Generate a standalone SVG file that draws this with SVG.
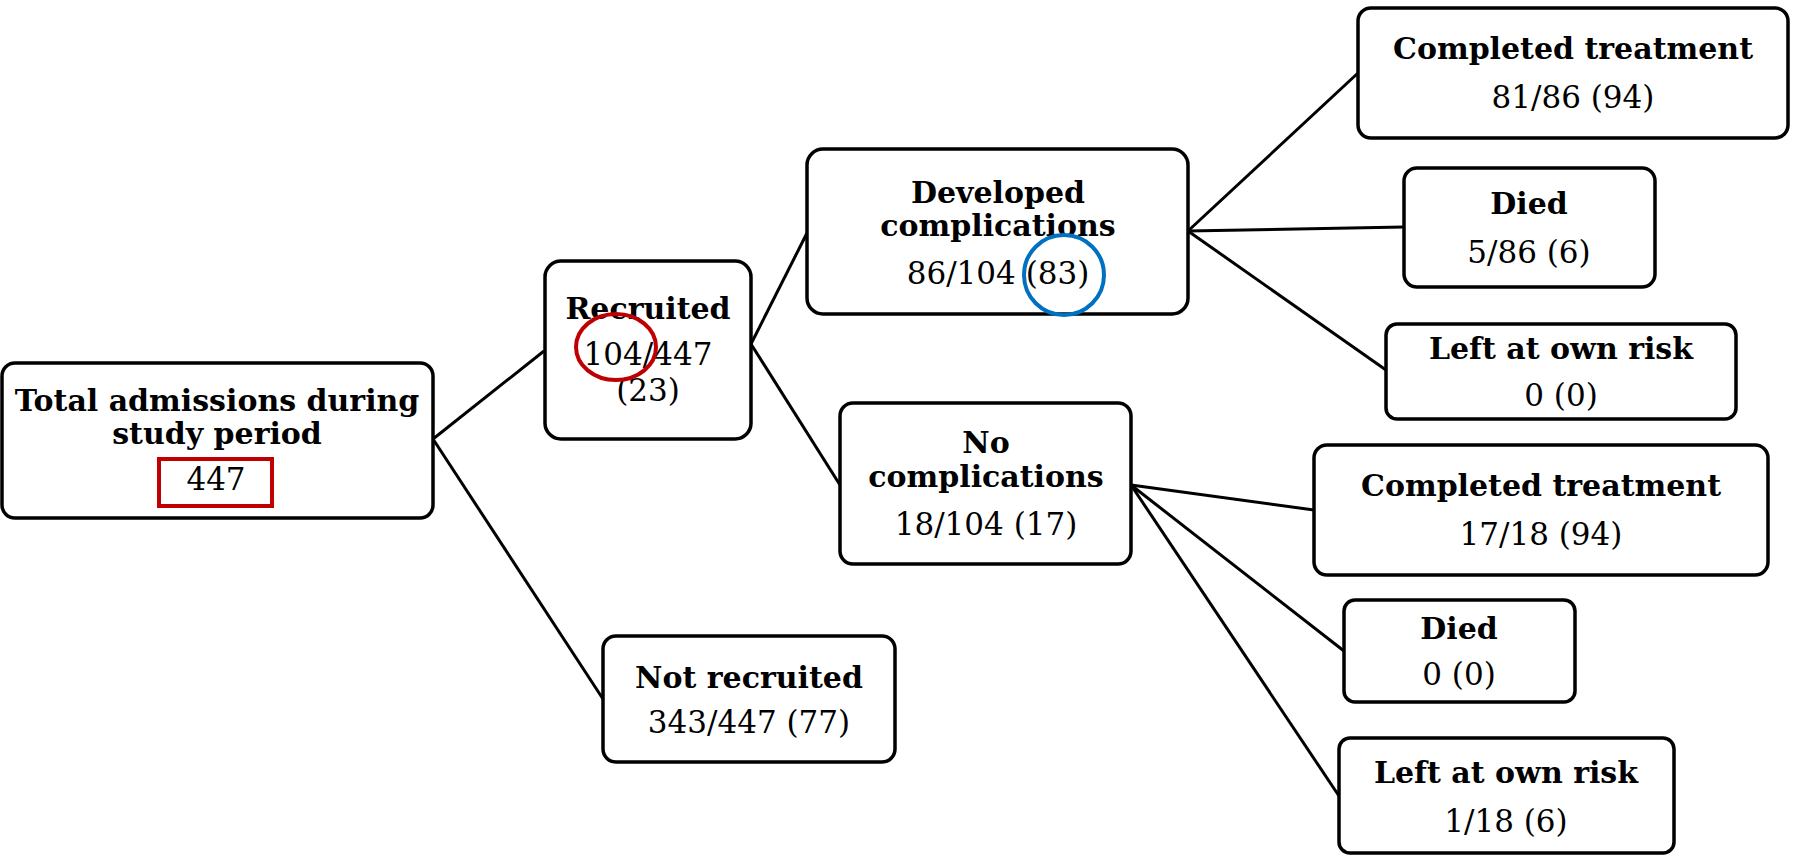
<svg xmlns="http://www.w3.org/2000/svg" width="1797" height="855" viewBox="0 0 1797 855">
<style>
.box{fill:#fff;stroke:#000;stroke-width:3.5}
.t{font-family:"DejaVu Serif",serif;font-weight:bold;font-size:30px;text-anchor:middle;dominant-baseline:central;fill:#000}
.n{font-family:"DejaVu Serif",serif;font-size:31px;text-anchor:middle;dominant-baseline:central;fill:#000}
#connectors line{stroke:#000;stroke-width:3}
</style>
<rect width="1797" height="855" fill="#fff"/>
<g id="connectors">
<line x1="433" y1="439" x2="544" y2="351"/>
<line x1="433" y1="439" x2="603" y2="699"/>
<line x1="751" y1="344" x2="807" y2="233"/>
<line x1="751" y1="344" x2="840" y2="485"/>
<line x1="1188" y1="231" x2="1358" y2="73"/>
<line x1="1188" y1="231" x2="1404" y2="227"/>
<line x1="1188" y1="231" x2="1386" y2="370"/>
<line x1="1131" y1="485" x2="1314" y2="510"/>
<line x1="1131" y1="485" x2="1344" y2="651"/>
<line x1="1131" y1="485" x2="1339" y2="796"/>
</g>
<g id="total">
<rect class="box" x="2" y="363" width="431" height="155" rx="13"/>
<text class="t" x="217" y="400">Total admissions during</text>
<text class="t" x="217" y="433">study period</text>
<rect x="159" y="459" width="113" height="47" fill="none" stroke="#c00000" stroke-width="4"/>
<text class="n" x="216" y="479">447</text>
</g>
<g id="recruited">
<rect class="box" x="545" y="261" width="206" height="178" rx="16"/>
<text class="t" x="648" y="308">Recruited</text>
<text class="n" x="648" y="354">104/447</text>
<text class="n" x="648" y="390">(23)</text>
<ellipse cx="616" cy="347" rx="40" ry="33" fill="none" stroke="#c00000" stroke-width="4"/>
</g>
<g id="notrecruited">
<rect class="box" x="603" y="636" width="292" height="126" rx="13"/>
<text class="t" x="749" y="677">Not recruited</text>
<text class="n" x="749" y="722">343/447 (77)</text>
</g>
<g id="developed">
<rect class="box" x="807" y="149" width="381" height="165" rx="16"/>
<text class="t" x="998" y="192">Developed</text>
<text class="t" x="998" y="225">complications</text>
<text class="n" x="998" y="273">86/104 (83)</text>
<circle cx="1064" cy="275" r="40" fill="none" stroke="#0070c0" stroke-width="4"/>
</g>
<g id="nocomp">
<rect class="box" x="840" y="403" width="291" height="161" rx="13"/>
<text class="t" x="986" y="442">No</text>
<text class="t" x="986" y="476">complications</text>
<text class="n" x="986" y="524">18/104 (17)</text>
</g>
<g id="completed1">
<rect class="box" x="1358" y="8" width="430" height="130" rx="13"/>
<text class="t" x="1573" y="48">Completed treatment</text>
<text class="n" x="1573" y="97">81/86 (94)</text>
</g>
<g id="died1">
<rect class="box" x="1404" y="168" width="251" height="119" rx="13"/>
<text class="t" x="1529" y="203">Died</text>
<text class="n" x="1529" y="252">5/86 (6)</text>
</g>
<g id="left1">
<rect class="box" x="1386" y="324" width="350" height="95" rx="11"/>
<text class="t" x="1561" y="348">Left at own risk</text>
<text class="n" x="1561" y="395">0 (0)</text>
</g>
<g id="completed2">
<rect class="box" x="1314" y="445" width="454" height="130" rx="13"/>
<text class="t" x="1541" y="485">Completed treatment</text>
<text class="n" x="1541" y="534">17/18 (94)</text>
</g>
<g id="died2">
<rect class="box" x="1344" y="600" width="231" height="102" rx="11"/>
<text class="t" x="1459" y="628">Died</text>
<text class="n" x="1459" y="674">0 (0)</text>
</g>
<g id="left2">
<rect class="box" x="1339" y="738" width="335" height="115" rx="11"/>
<text class="t" x="1506" y="772">Left at own risk</text>
<text class="n" x="1506" y="821">1/18 (6)</text>
</g>
</svg>
